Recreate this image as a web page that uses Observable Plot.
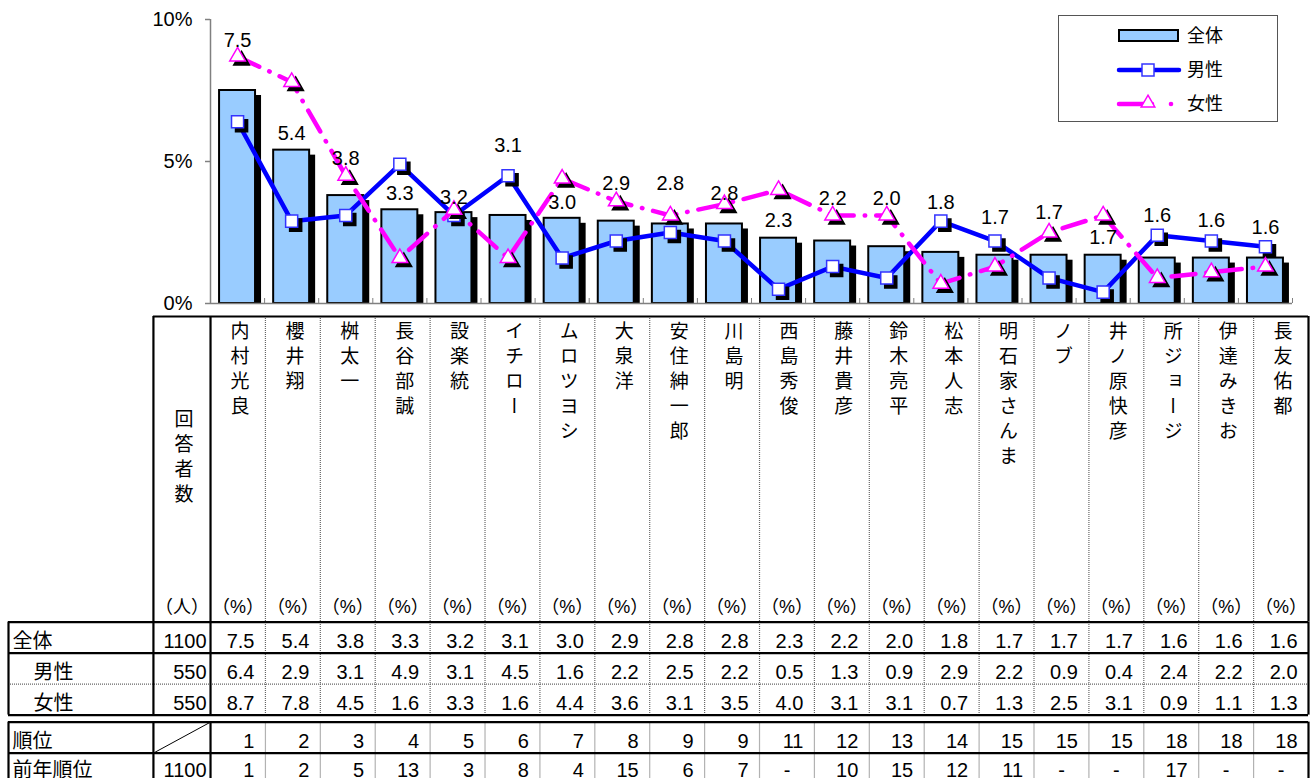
<!DOCTYPE html>
<html><head><meta charset="utf-8">
<script src="https://cdn.jsdelivr.net/npm/d3@7"></script>
<script src="https://cdn.jsdelivr.net/npm/@observablehq/plot@0.6"></script>
<style>
body{margin:0;background:#fff;}
#wrap{position:relative;width:1312px;height:778px;overflow:hidden;font-family:"Liberation Sans","Noto Sans CJK JP",sans-serif;}
#wrap svg{display:block;}
#legend{position:absolute;left:1058px;top:15px;width:220px;height:107px;border:1.5px solid #555;box-sizing:border-box;background:#fff;}
</style></head><body>
<div id="wrap"><div id="chart"></div><div id="table"></div><div id="legend"></div></div>
<script>
// ---- data ----
const names = ["内村光良","櫻井翔","桝太一","長谷部誠","設楽統","イチロー","ムロツヨシ","大泉洋","安住紳一郎","川島明","西島秀俊","藤井貴彦","鈴木亮平","松本人志","明石家さんま","ノブ","井ノ原快彦","所ジョージ","伊達みきお","長友佑都"];
const totalPct  = [7.5,5.4,3.8,3.3,3.2,3.1,3.0,2.9,2.8,2.8,2.3,2.2,2.0,1.8,1.7,1.7,1.7,1.6,1.6,1.6];
const malePct   = [6.4,2.9,3.1,4.9,3.1,4.5,1.6,2.2,2.5,2.2,0.5,1.3,0.9,2.9,2.2,0.9,0.4,2.4,2.2,2.0];
const femalePct = [8.7,7.8,4.5,1.6,3.3,1.6,4.4,3.6,3.1,3.5,4.0,3.1,3.1,0.7,1.3,2.5,3.1,0.9,1.1,1.3];
const rankNow   = [1,2,3,4,5,6,7,8,9,9,11,12,13,14,15,15,15,18,18,18];
const rankPrev  = ["1","2","5","13","3","8","4","15","6","7","-","10","15","12","11","-","-","17","-","-"];
// height (in %) where each 全体 value label sits in the chart
const labelAt   = [9.26,5.99,5.11,3.87,3.73,5.56,3.56,4.23,4.23,3.87,2.92,3.70,3.70,3.56,3.03,3.20,2.32,3.10,2.92,2.68];
const seriesLabels = ["全体","男性","女性"];
const seriesCounts = [1100,550,550];
const prevCount = 1100;
const yTicks = [0,5,10];

const rows = names.map((name,i)=>({name,i,all:totalPct[i],male:malePct[i],female:femalePct[i],lab:labelAt[i],rank:rankNow[i],prev:rankPrev[i]}));
const FONT = '"Liberation Sans","Noto Sans CJK JP",sans-serif';
const cx = d => d.i + 0.5;
const bx1 = d => d.i + 0.1675, bx2 = d => d.i + 0.8325;
const pxUnitX = 1082/20, pxUnitY = 284/10;

const chart = Plot.plot({
  width:1312, height:312, marginLeft:210, marginRight:20, marginTop:19, marginBottom:9,
  style:{fontFamily:FONT, background:"transparent", color:"#000", overflow:"visible"},
  x:{domain:[0,20], axis:null},
  y:{domain:[0,10], axis:null},
  marks:[
    Plot.rect(rows,{x1:bx1,x2:bx2,y1:0,y2:"all",fill:"#000",dx:6,dy:5,clip:true}),
    Plot.rect(rows,{x1:bx1,x2:bx2,y1:0,y2:"all",fill:"#99CCFF",stroke:"#000",strokeWidth:2}),
    Plot.ruleY([0],{x1:0,x2:20,stroke:"#808080",strokeWidth:1.5}),
    Plot.ruleX([0],{y1:0,y2:10,stroke:"#808080",strokeWidth:1.5}),
    Plot.ruleX(d3.range(1,21),{y1:0,y2:5/pxUnitY,stroke:"#808080",strokeWidth:1}),
    Plot.ruleY(yTicks,{x1:-5/pxUnitX,x2:0,stroke:"#808080",strokeWidth:1.5}),
    Plot.text(yTicks,{x:-18/pxUnitX,y:d=>d,text:d=>d+"%",textAnchor:"end",fontSize:20,fill:"#000"}),
    Plot.line(rows,{x:cx,y:"male",stroke:"#0000FF",strokeWidth:4.5}),
    Plot.dot(rows,{x:cx,y:"male",symbol:"square",r:6.8,fill:"#000",stroke:"#000",dx:4,dy:4}),
    Plot.dot(rows,{x:cx,y:"male",symbol:"square",r:6.8,fill:"#fff",stroke:"#3333FF",strokeWidth:1.5}),
    Plot.line(rows,{x:cx,y:"female",stroke:"#FF00FF",strokeWidth:4.5,strokeDasharray:"24 11 0.5 11",strokeLinecap:"round"}),
    Plot.dot(rows,{x:cx,y:"female",symbol:"triangle",r:5.8,fill:"#000",stroke:"#000",dx:4,dy:4}),
    Plot.dot(rows,{x:cx,y:"female",symbol:"triangle",r:5.8,fill:"#fff",stroke:"#FF00FF",strokeWidth:1.5}),
    Plot.text(rows,{x:cx,y:"lab",text:d=>d.all.toFixed(1),fontSize:20,fill:"#000"})
  ]
});
document.getElementById("chart").appendChild(chart);

// ---- table ----
const H = 9.855, xL = -3.68, xC = -1.04, LT = H + 3.226;
const hSolid = [
  {y:0,x1:xC,x2:20},{y:H,x1:xL,x2:20},{y:H+1,x1:xL,x2:20},{y:H+3,x1:xL,x2:20},
  {y:LT,x1:xL,x2:20},{y:LT+1,x1:xL,x2:20},{y:LT+2,x1:xL,x2:20}
];
const hDot = [{y:H+2,x1:xL,x2:20}];
const vSolid = [];
[xL,xC,0,20].forEach(x=>{vSolid.push({x,y1:H,y2:H+3});vSolid.push({x,y1:LT,y2:LT+2.2});});
[xC,0,20].forEach(x=>vSolid.push({x,y1:0,y2:H}));
const vDot = [];
d3.range(1,20).forEach(x=>{vDot.push({x,y1:0,y2:H+3});vDot.push({x,y1:LT,y2:LT+2.2});});

const lastY = LT + 1.55;
const cells = [];
["all","male","female"].forEach((k,r)=>rows.forEach(d=>cells.push({x:d.i+0.8,y:H+r+0.62,t:d[k].toFixed(1),a:"end"})));
rows.forEach(d=>cells.push({x:d.i+0.8,y:LT+0.62,t:String(d.rank),a:"end"}));
rows.forEach(d=>cells.push(d.prev==="-"?{x:d.i+0.5,y:lastY,t:"-",a:"middle"}:{x:d.i+0.8,y:lastY,t:d.prev,a:"end"}));
const counts = seriesCounts.map((c,r)=>({x:-0.073,y:H+r+0.62,t:String(c)}));
counts.push({x:-0.073,y:lastY,t:String(prevCount)});
const rowLabels = [
  {x:xL+0.073,y:H+0.62,t:seriesLabels[0]},
  {x:xL+0.455,y:H+1.62,t:seriesLabels[1]},
  {x:xL+0.455,y:H+2.62,t:seriesLabels[2]},
  {x:xL+0.073,y:LT+0.62,t:"順位"},
  {x:xL+0.073,y:lastY,t:"前年順位"}
];
const units = [{x:xC/2,t:"（人）"}].concat(rows.map(d=>({x:cx(d),t:"（%）"})));

const table = Plot.plot({
  width:1312, height:466, marginTop:0, marginBottom:0, marginLeft:0, marginRight:0,
  style:{fontFamily:FONT, background:"transparent", color:"#000", overflow:"visible"},
  x:{domain:[xL,20], range:[8,1308], axis:null},
  y:{domain:[0,14.9], range:[4,466], axis:null},
  marks:[
    Plot.ruleX(vDot,{x:"x",y1:"y1",y2:"y2",stroke:"#666",strokeWidth:1.2,strokeDasharray:"1 1"}),
    Plot.ruleY(hDot,{y:"y",x1:"x1",x2:"x2",stroke:"#666",strokeWidth:1.2,strokeDasharray:"1 1"}),
    Plot.ruleY(hSolid,{y:"y",x1:"x1",x2:"x2",stroke:"#000",strokeWidth:2.2}),
    Plot.ruleX(vSolid,{x:"x",y1:"y1",y2:"y2",stroke:"#000",strokeWidth:2.2}),
    Plot.link([0],{x1:xC,y1:LT+1,x2:0,y2:LT,stroke:"#000",strokeWidth:1}),
    Plot.text(rows,{x:cx,y:()=>0.16,text:"name",textAnchor:"start",lineAnchor:"bottom",fontSize:19,fill:"#000"}),
    Plot.text(["回答者数"],{x:()=>xC/2,y:()=>2.98,text:d=>d,textAnchor:"start",lineAnchor:"bottom",fontSize:19,fill:"#000"}),
    Plot.text(units,{x:"x",y:()=>9.39,text:"t",fontSize:18,fill:"#000"}),
    Plot.text(cells.filter(c=>c.a==="end"),{x:"x",y:"y",text:"t",textAnchor:"end",fontSize:20,fill:"#000"}),
    Plot.text(cells.filter(c=>c.a==="middle"),{x:"x",y:"y",text:"t",textAnchor:"middle",fontSize:20,fill:"#000"}),
    Plot.text(counts,{x:"x",y:"y",text:"t",textAnchor:"end",fontSize:20,fill:"#000"}),
    Plot.text(rowLabels,{x:"x",y:"y",text:"t",textAnchor:"start",fontSize:20,fill:"#000"})
  ]
});
document.getElementById("table").appendChild(table);
// vertical writing for the name headers
const vertSet = new Set(names.concat(["回答者数"]));
table.querySelectorAll("text").forEach(t=>{
  if (vertSet.has(t.textContent)) {
    t.style.writingMode = "vertical-rl";
    t.style.letterSpacing = "6px";
    t.setAttribute("text-anchor","start");
  }
});

// ---- legend ----
const lg = d3.select("#legend").append("svg").attr("width",218).attr("height",105)
  .style("font-family",FONT).style("font-size","18px");
lg.append("rect").attr("x",60).attr("y",14).attr("width",59).attr("height",11).attr("fill","#99CCFF").attr("stroke","#000").attr("stroke-width",2);
lg.append("line").attr("x1",60).attr("x2",120).attr("y1",54).attr("y2",54).attr("stroke","#0000FF").attr("stroke-width",4.5).attr("stroke-linecap","round");
lg.append("rect").attr("x",83).attr("y",48).attr("width",12).attr("height",12).attr("fill","#fff").attr("stroke","#3333FF").attr("stroke-width",1.5);
lg.append("line").attr("x1",60).attr("x2",93).attr("y1",88).attr("y2",88).attr("stroke","#FF00FF").attr("stroke-width",4.5).attr("stroke-linecap","round");
lg.append("path").attr("d",d3.symbol(d3.symbolTriangle,80)()).attr("transform","translate(89,87)").attr("fill","#fff").attr("stroke","#FF00FF").attr("stroke-width",1.5);
lg.append("circle").attr("cx",112).attr("cy",88).attr("r",2.3).attr("fill","#FF00FF");
[["全体",20],["男性",54],["女性",88]].forEach(([t,y])=>lg.append("text").attr("x",128).attr("y",y).attr("dy","0.35em").text(t));
</script></body></html>
